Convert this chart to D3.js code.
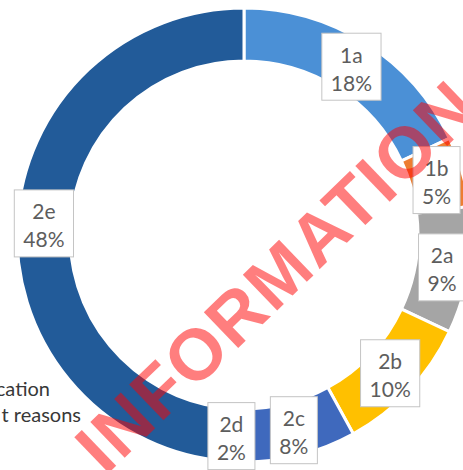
<!DOCTYPE html>
<meta charset="utf-8">
<script src="https://d3js.org/d3.v7.min.js"></script>
<style>
  body { margin: 0; background: #fff; }
</style>
<body>
<svg id="chart" width="463" height="470"></svg>
<script>
// chart values
const categories = ["1a", "1b", "2a", "2b", "2c", "2d", "2e"];
const shares = [18, 5, 9, 10, 8, 2, 48];
const colors = ["#4b90d6", "#ed7d31", "#a5a5a5", "#ffc000", "#3f69bd", "#2f5597", "#225b99"];
// cut-off legend fragments on the left
const legendBits = ["cation", "t reasons"];

const svg = d3.select("#chart");
const cx = 244, cy = 235;
const outerR = 227, innerR = 174;

const data = categories.map((c, i) => ({ name: c, value: shares[i], color: colors[i] }));

const pie = d3.pie().sort(null).value(d => d.value);
const arc = d3.arc().innerRadius(innerR).outerRadius(outerR);
const labelArc = d3.arc().innerRadius((innerR + outerR) / 2).outerRadius((innerR + outerR) / 2);

const g = svg.append("g").attr("transform", `translate(${cx},${cy})`);

// ring
g.selectAll("path")
  .data(pie(data))
  .join("path")
    .attr("d", arc)
    .attr("fill", d => d.data.color)
    .attr("stroke", "#fff")
    .attr("stroke-width", 3);

// data labels (box + two lines)
const labels = g.selectAll("g.lbl")
  .data(pie(data))
  .join("g")
    .attr("class", "lbl")
    .attr("transform", d => {
      const [x, y] = labelArc.centroid(d);
      return `translate(${x},${y + 1})`;
    });

labels.append("rect")
    .attr("fill", "#fff")
    .attr("stroke", "#c4c4c4")
    .attr("stroke-width", 1);

labels.append("text")
    .attr("text-anchor", "middle")
    .attr("font-family", "Lato, 'Open Sans', sans-serif")
    .attr("font-size", 21)
    .attr("fill", "#5d5d5d")
    .each(function(d) {
      const t = d3.select(this);
      t.append("tspan").attr("x", 0).attr("y", -4).text(d.data.name);
      t.append("tspan").attr("x", 0).attr("y", 24).text(d.data.value + "%");
    });

labels.each(function() {
  const el = d3.select(this);
  const w = el.select("text").node().getBBox().width + 18;
  el.select("rect")
    .attr("x", -w / 2)
    .attr("y", -33.5)
    .attr("width", w)
    .attr("height", 67);
});

// legend fragments
svg.selectAll("text.leg")
  .data(legendBits)
  .join("text")
    .attr("class", "leg")
    .attr("x", (d, i) => i === 0 ? 50 : 81)
    .attr("y", (d, i) => 396 + i * 26)
    .attr("text-anchor", "end")
    .attr("font-family", "Lato, 'Open Sans', sans-serif")
    .attr("font-size", 20)
    .attr("fill", "#383838")
    .text(d => d);

// watermark
svg.append("text")
    .attr("transform", "translate(294,294) rotate(-44)")
    .attr("text-anchor", "middle")
    .attr("font-family", "'Liberation Sans', Arial, sans-serif")
    .attr("font-weight", "bold")
    .attr("font-size", 72)
    .attr("letter-spacing", 2)
    .attr("fill", "#ff0000")
    .attr("opacity", 0.5)
    .text("INFORMATION");
</script>
</body>
